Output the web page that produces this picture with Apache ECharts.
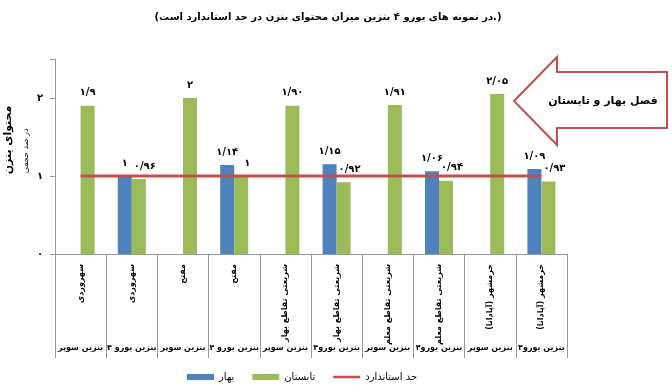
<!DOCTYPE html>
<html>
<head>
<meta charset="utf-8">
<script src="https://cdn.jsdelivr.net/npm/echarts@6/dist/echarts.min.js"></script>
<style>html,body{margin:0;padding:0;background:#fff;}#c{width:672px;height:390px;}</style>
</head>
<body>
<div id="c"></div>
<script>
const places = ['سهروردی','سهروردی','مفتح','مفتح','شریعتی تقاطع بهار','شریعتی تقاطع بهار','شریعتی تقاطع معلم','شریعتی تقاطع معلم','خرمشهر (آپادانا)','خرمشهر (آپادانا)'];
const fuels = ['بنزین سوپر','بنزین یورو ۴','بنزین سوپر','بنزین یورو ۴','بنزین سوپر','بنزین یورو۴','بنزین سوپر','بنزین یورو۴','بنزین سوپر','بنزین یورو۴'];
const spring = [null,1,null,1.14,null,1.15,null,1.06,null,1.09];
const summer = [1.9,0.96,2,1,1.90,0.92,1.91,0.94,2.05,0.93];
const standard = [1,1,1,1,1,1,1,1,1,1];
const springLabels = [null,'۱',null,'۱/۱۴',null,'۱/۱۵',null,'۱/۰۶',null,'۱/۰۹'];
const summerLabels = ['۱/۹','۰/۹۶','۲','۱','۱/۹۰','۰/۹۲','۱/۹۱','۰/۹۴','۲/۰۵','۰/۹۳'];
const yTickLabels = {0:'۰',1:'۱',2:'۲'};
const titleText = '(در نمونه های یورو ۴ بنزین میزان محتوای بنزن در حد استاندارد است.)';
const yName = 'محتوای بنزن';
const yUnit = 'در صد حجمی';
const calloutText = 'فصل بهار و تابستان';
const seriesNames = ['بهار','تابستان','حد استاندارد'];

const FF = 'DejaVu Sans';
const chart = echarts.init(document.getElementById('c'));
const lbl = {show:true, position:'top', distance:8, fontSize:10, fontWeight:'bold', fontFamily:FF, color:'#000'};
const lineIcon = 'path://M0,0H0.01V0.01H0Z M0,1.6H28V4.4H0Z M27.99,5.99H28V6H27.99Z';

chart.setOption({
  animation:false,
  textStyle:{fontFamily:FF},
  grid:{left:55, right:105, top:59, bottom:136},
  legend:{
    left:182, top:367, itemWidth:27, itemHeight:6, itemGap:18,
    textStyle:{fontSize:10, color:'#000', fontFamily:FF},
    data:[{name:seriesNames[0], icon:'rect'},{name:seriesNames[1], icon:'rect'},{name:seriesNames[2], icon:lineIcon}]
  },
  xAxis:[{
    type:'category', data:places, position:'bottom',
    axisLine:{lineStyle:{color:'#999', width:1}},
    axisTick:{show:true, length:104, lineStyle:{color:'#999'}},
    axisLabel:{rotate:90, margin:10, fontSize:8, fontWeight:'bold', color:'#000', fontFamily:FF, interval:0}
  },{
    type:'category', data:fuels, position:'bottom',
    axisLine:{show:false}, axisTick:{show:false},
    axisLabel:{margin:90, fontSize:8, fontWeight:'bold', color:'#000', fontFamily:FF, interval:0}
  }],
  yAxis:{
    type:'value', min:0, max:2.5, interval:1,
    splitLine:{show:false},
    axisLine:{show:true, lineStyle:{color:'#999'}},
    axisTick:{show:true, length:5, lineStyle:{color:'#999'}},
    axisLabel:{margin:12, fontSize:10, fontWeight:'bold', color:'#000', fontFamily:FF,
      formatter:v => yTickLabels[v] !== undefined ? yTickLabels[v] : ''}
  },
  series:[{
    name:seriesNames[0], type:'bar', barWidth:14, barGap:0,
    itemStyle:{color:'#4f81bd'},
    data:spring.map((v,i)=>v==null?null:{value:v, label:Object.assign({}, lbl, {formatter:springLabels[i]})})
  },{
    name:seriesNames[1], type:'bar', barWidth:14, barGap:0,
    itemStyle:{color:'#9bbb59'},
    data:summer.map((v,i)=>({value:v, label:Object.assign({}, lbl, {formatter:summerLabels[i], offset:spring[i]!=null?[6,0]:[0,0]})}))
  },{
    name:seriesNames[2], type:'line', symbol:'none', z:5,
    lineStyle:{color:'#c0504d', width:3}, itemStyle:{color:'#c0504d'},
    data:standard
  }],
  graphic:[
    {type:'text', x:328, y:17, style:{text:titleText, font:'bold 10px "DejaVu Sans"', fill:'#000', align:'center', verticalAlign:'middle'}},
    {type:'text', x:8, y:140, rotation:Math.PI/2, style:{text:yName, font:'bold 11px "DejaVu Sans"', fill:'#000', align:'center', verticalAlign:'middle'}},
    {type:'text', x:26, y:151, rotation:Math.PI/2, style:{text:yUnit, font:'8px "DejaVu Sans"', fill:'#000', align:'center', verticalAlign:'middle'}},
    {type:'polygon', shape:{points:[[514,101],[557,57],[557,72],[667,72],[667,128],[557,128],[557,145]]},
      style:{fill:'#fff', stroke:'#c0504d', lineWidth:2}},
    {type:'text', x:603, y:101, style:{text:calloutText, font:'bold 11px "DejaVu Sans"', fill:'#000', align:'center', verticalAlign:'middle'}}
  ]
});
</script>
</body>
</html>
